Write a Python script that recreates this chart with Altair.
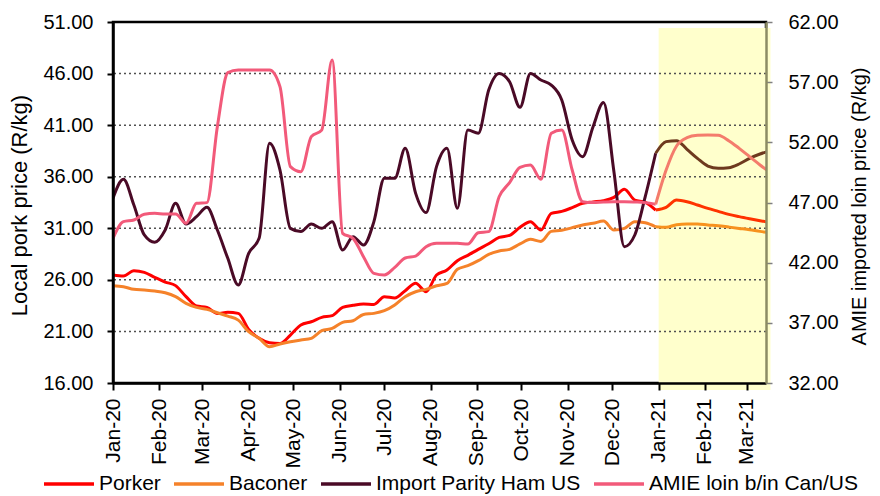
import altair as alt
import pandas as pd

# weekly observations, Jan-2020 .. Mar-2021 (forecast from Jan-2021)
weeks = pd.date_range("2020-01-01", periods=64, freq="7D").strftime("%Y-%m-%d").tolist()
FORECAST_START = 52

porker = [26.47, 26.37, 26.89, 26.73, 26.24, 25.79, 25.44, 24.37, 23.46, 23.33,
          22.75, 22.85, 22.75, 21.20, 20.33, 19.91, 19.84, 20.65, 21.62, 21.94,
          22.36, 22.53, 23.33, 23.53, 23.66, 23.62, 24.37, 24.24, 24.95, 25.66,
          24.85, 26.47, 26.95, 27.86, 28.38, 28.96, 29.50, 30.12, 30.31, 31.09,
          31.64, 30.83, 32.45, 32.64, 33.00, 33.42, 33.55, 33.68, 34.00, 34.78,
          33.74, 33.52, 32.77, 33.03, 33.74, 33.58, 33.26, 32.93, 32.64, 32.35,
          32.13, 31.93, 31.74, 31.54]

baconer = [25.43, 25.34, 25.08, 25.01, 24.92, 24.75, 24.37, 23.72, 23.33, 23.14,
           22.81, 22.49, 22.10, 20.97, 20.33, 19.52, 19.78, 20.00, 20.17, 20.33,
           21.07, 21.30, 21.88, 22.04, 22.65, 22.75, 23.01, 23.56, 24.37, 24.85,
           25.08, 25.43, 25.66, 27.02, 27.37, 27.86, 28.47, 28.80, 28.96, 29.48,
           29.93, 29.73, 30.70, 30.80, 31.06, 31.32, 31.48, 31.70, 30.83, 30.99,
           31.64, 31.54, 31.15, 31.09, 31.35, 31.41, 31.41, 31.32, 31.25, 31.12,
           30.99, 30.86, 30.70, 30.57]

ham_us = [47.35, 48.93, 46.79, 44.30, 43.69, 44.71, 46.93, 45.21, 45.82, 46.60,
          44.71, 42.36, 40.14, 42.78, 44.02, 51.92, 49.70, 44.85, 44.58, 45.21,
          44.85, 45.41, 43.05, 44.16, 43.47, 45.41, 49.01, 49.01, 51.50, 47.76,
          46.16, 49.98, 51.50, 46.52, 53.02, 52.75, 56.35, 57.73, 57.04, 54.91,
          57.73, 57.18, 56.76, 55.52, 52.19, 50.81, 53.30, 55.30, 49.56, 43.33,
          44.30, 47.48, 51.09, 52.06, 52.14, 51.42, 50.67, 50.03, 49.84, 49.89,
          50.20, 50.67, 51.03, 51.31]

amie = [44.02, 45.41, 45.55, 46.02, 46.10, 46.04, 46.04, 45.27, 46.93, 46.99,
        53.30, 57.79, 58.01, 58.01, 58.01, 58.01, 56.63, 49.98, 49.56, 52.47,
        53.02, 58.84, 44.44, 44.02, 42.50, 41.11, 40.98, 41.61, 42.39, 42.55,
        43.33, 43.61, 43.61, 43.61, 43.55, 44.49, 44.58, 47.48, 48.65, 49.92,
        50.12, 48.93, 52.75, 53.02, 49.70, 47.07, 46.99, 47.04, 47.07, 47.07,
        47.04, 46.99, 46.85, 49.70, 51.70, 52.39, 52.58, 52.61, 52.58, 52.14,
        51.50, 50.81, 50.12, 49.48]

series_names = ["Porker", "Baconer", "Import Parity Ham US", "AMIE loin b/in Can/US"]
series_values = [porker, baconer, ham_us, amie]
actual_colors = ["#FF0000", "#F5822A", "#4A0A26", "#F25A7A"]
forecast_colors = ["#FF3300", "#F7921E", "#6E3A1E", "#F47C6C"]

left_ticks = [16, 21, 26, 31, 36, 41, 46, 51]
right_ticks = [32, 37, 42, 47, 52, 57, 62]
x_domain = ["2020-01-01", "2021-03-14"]
shade_period = {"start": ["2021-01-01"], "end": ["2021-03-17"]}

rows = []
for name, vals in zip(series_names, series_values):
    for i, (d, v) in enumerate(zip(weeks, vals)):
        rows.append({"date": d, "series": name, "value": v, "idx": i})
df = pd.DataFrame(rows)
actual = df[df.idx <= FORECAST_START]
forecast = df[df.idx >= FORECAST_START]

FONT = "Liberation Sans"

x_axis = alt.Axis(format="%b-%y", tickCount={"interval": "month", "step": 1},
                  labelAngle=270, labelFontSize=21, labelFont=FONT, labelColor="black",
                  tickSize=7, tickColor="black", tickWidth=2, domainColor="black",
                  domainWidth=2.5, labelPadding=8, labelOverlap=False, labelFlush=False,
                  grid=False, title=None, zindex=1)
x_scale = alt.Scale(domain=x_domain)


def X(field):
    return alt.X(field, type="temporal", scale=x_scale, axis=x_axis, title=None)


yl_scale = alt.Scale(domain=[16, 51], nice=False, zero=False)
yr_scale = alt.Scale(domain=[32, 62], nice=False, zero=False)
left_axis = alt.Axis(values=left_ticks, format=".2f", labelFontSize=20, labelFont=FONT,
                     labelColor="black", tickSize=6, tickColor="black", tickWidth=2,
                     domainColor="black", domainWidth=2.5, labelPadding=14, grid=False,
                     title="Local pork price (R/kg)", titleFont=FONT, titleFontSize=22,
                     titleFontWeight="normal", titleColor="black", titleAngle=270,
                     titleX=-104, titleY=183, titleBaseline="top", titleAlign="center",
                     zindex=1)
right_axis = alt.Axis(orient="right", values=right_ticks, format=".2f", labelFontSize=20,
                      labelFont=FONT, labelColor="black", tickSize=6, tickColor="#808080",
                      tickWidth=1.5, domainColor="#8C8C64", domainWidth=2.5, labelPadding=16,
                      grid=False, title="AMIE imported loin price (R/kg)", titleFont=FONT,
                      titleFontSize=20, titleFontWeight="normal", titleColor="black",
                      titleAngle=270, titleX=83, titleY=184, titleBaseline="top",
                      titleAlign="center", zindex=1)

color_scale = alt.Scale(domain=series_names, range=actual_colors)
legend = alt.Legend(orient="none", legendX=-71, legendY=435, direction="horizontal",
                    symbolType="stroke", symbolSize=2500, symbolStrokeWidth=3.5,
                    labelFontSize=21, labelFont=FONT, labelColor="black", title=None,
                    columnPadding=6, labelOffset=3, padding=0, labelLimit=400)

shade = alt.Chart(pd.DataFrame(shade_period)).mark_rect(color="#FFFFCC").encode(
    x=X("start"), x2="end:T", y=alt.value(6), y2=alt.value(368))

grid = alt.Chart(pd.DataFrame({"g": left_ticks[1:-1]})).mark_rule(
    strokeDash=[2, 3], color="#505050", strokeWidth=1.5).encode(
    y=alt.Y("g:Q", scale=yl_scale, axis=left_axis))

left_names = series_names[:2]
right_names = series_names[2:]

left_actual = alt.Chart(actual[actual.series.isin(left_names)]).mark_line(
    strokeWidth=3, interpolate="monotone", clip=True).encode(
    x=X("date"), y=alt.Y("value:Q", scale=yl_scale, axis=left_axis),
    color=alt.Color("series:N", scale=color_scale, legend=legend, sort=series_names))

right_actual = alt.Chart(actual[actual.series.isin(right_names)]).mark_line(
    strokeWidth=3, interpolate="monotone", clip=True).encode(
    x=X("date"), y=alt.Y("value:Q", scale=yr_scale, axis=right_axis),
    color=alt.Color("series:N", scale=color_scale, legend=legend, sort=series_names))


def fc_layer(name, col, yscale, yaxis):
    return alt.Chart(forecast[forecast.series == name]).mark_line(
        strokeWidth=3, interpolate="monotone", clip=True, color=col).encode(
        x=X("date"), y=alt.Y("value:Q", scale=yscale, axis=yaxis))


left = alt.layer(
    shade, grid, left_actual,
    fc_layer(series_names[0], forecast_colors[0], yl_scale, left_axis),
    fc_layer(series_names[1], forecast_colors[1], yl_scale, left_axis),
)
right = alt.layer(
    right_actual,
    fc_layer(series_names[2], forecast_colors[2], yr_scale, right_axis),
    fc_layer(series_names[3], forecast_colors[3], yr_scale, right_axis),
)

chart = alt.layer(left, right).resolve_scale(y="independent").properties(
    width=653, height=361,
    autosize=alt.AutoSizeParams(type="none"),
    padding={"left": 105, "top": 14, "right": 106, "bottom": 113},
    background="white",
).configure_view(stroke="black", strokeWidth=2.5)

chart.save("out.html", embed_options={"renderer": "svg", "actions": False})
